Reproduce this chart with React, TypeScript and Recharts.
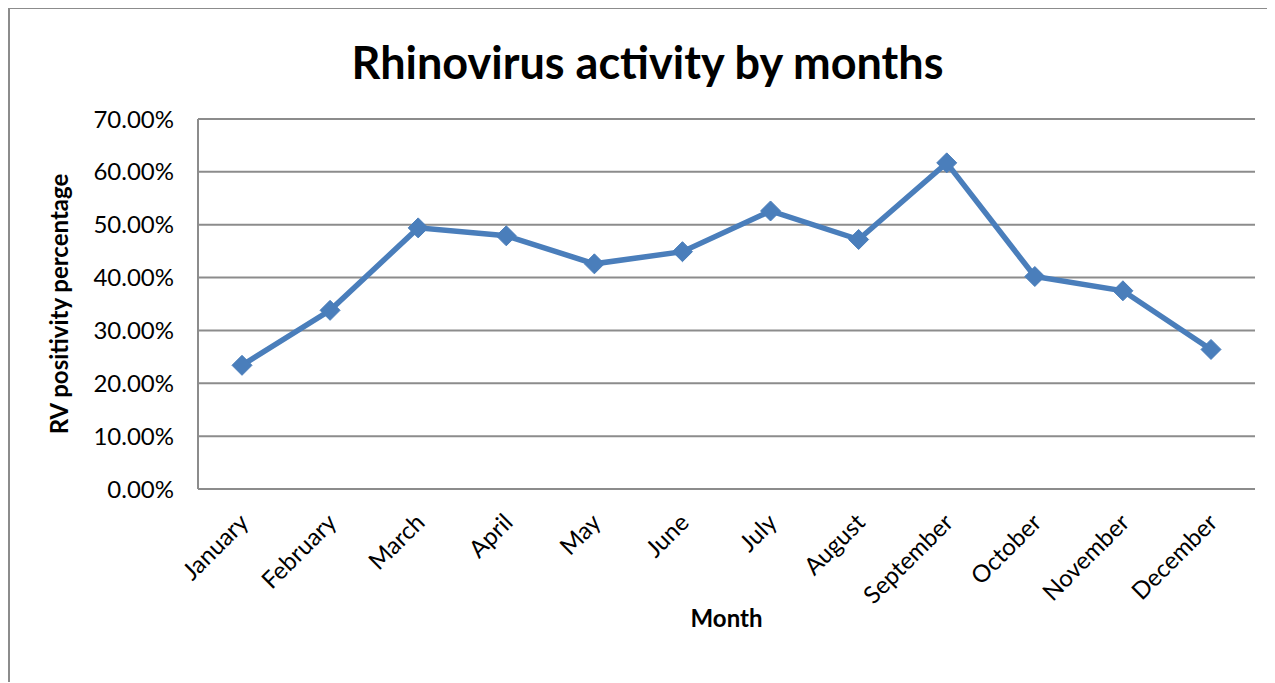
import React from 'react';
import { LineChart, Line, XAxis, YAxis, CartesianGrid } from 'recharts';

const months = [
  'January', 'February', 'March', 'April', 'May', 'June',
  'July', 'August', 'September', 'October', 'November', 'December',
];
const positivity = [23.4, 33.8, 49.4, 47.9, 42.6, 44.9, 52.6, 47.2, 61.7, 40.2, 37.5, 26.4];
const yTicks = [0, 10, 20, 30, 40, 50, 60, 70];

const data = months.map((month, i) => ({ month, value: positivity[i] }));

const FONT = 'Lato, "Open Sans", sans-serif';
const BLUE = '#4a7ebb';
const GRID = '#8c8c8c';

// diamond-shaped point marker
const Diamond = (props: any) => {
  const { cx, cy } = props;
  if (cx == null || cy == null) return null;
  const r = 10;
  return (
    <polygon
      points={`${cx},${cy - r} ${cx + r},${cy} ${cx},${cy + r} ${cx - r},${cy}`}
      fill={BLUE}
      stroke={BLUE}
      strokeWidth={1}
    />
  );
};

// slanted month labels
const MonthTick = (props: any) => {
  const { x, y, payload } = props;
  const tx = x + 8;
  const ty = y + 27;
  return (
    <text
      x={tx}
      y={ty}
      transform={`rotate(-45, ${tx}, ${ty})`}
      textAnchor="end"
      fontSize={24}
      fontFamily={FONT}
      fill="#000"
    >
      {payload.value}
    </text>
  );
};

export default function App() {
  return (
    <div
      style={{
        width: 1267,
        height: 675,
        borderLeft: `2px solid ${GRID}`,
        borderTop: `2px solid ${GRID}`,
        marginTop: -1,
        boxSizing: 'border-box',
        position: 'relative',
        background: '#fff',
        overflow: 'hidden',
      }}
    >
      <div
        style={{
          position: 'absolute',
          left: 0,
          top: 26,
          width: 1275,
          textAlign: 'center',
          fontFamily: FONT,
          fontWeight: 700,
          fontSize: 45,
          color: '#000',
        }}
      >
        Rhinovirus activity by months
      </div>
      <LineChart
        width={1265}
        height={673}
        data={data}
        margin={{ top: 110, right: 20, bottom: 0, left: 0 }}
      >
        <CartesianGrid vertical={false} stroke={GRID} strokeWidth={2} />
        <XAxis
          dataKey="month"
          interval={0}
          padding={{ left: 44, right: 44 }}
          tickLine={false}
          axisLine={{ stroke: GRID, strokeWidth: 2 }}
          tick={<MonthTick />}
          height={193}
          label={{
            value: 'Month',
            position: 'insideTop',
            dy: 116,
            fontSize: 24,
            fontWeight: 700,
            fontFamily: FONT,
            fill: '#000',
          }}
        />
        <YAxis
          domain={[0, 70]}
          ticks={yTicks}
          width={188}
          tickLine={false}
          tickSize={0}
          tickMargin={24}
          axisLine={{ stroke: GRID, strokeWidth: 2 }}
          tickFormatter={(v: number) => `${v.toFixed(2)}%`}
          tick={{ fontSize: 24, fontFamily: FONT, fill: '#000' }}
          label={{
            value: 'RV positivity percentage',
            angle: -90,
            position: 'insideLeft',
            dx: 44,
            fontSize: 24,
            fontWeight: 700,
            fontFamily: FONT,
            fill: '#000',
            style: { textAnchor: 'middle' },
          }}
        />
        <Line
          type="linear"
          dataKey="value"
          stroke={BLUE}
          strokeWidth={5.5}
          dot={<Diamond />}
          activeDot={false}
          isAnimationActive={false}
        />
      </LineChart>
    </div>
  );
}
